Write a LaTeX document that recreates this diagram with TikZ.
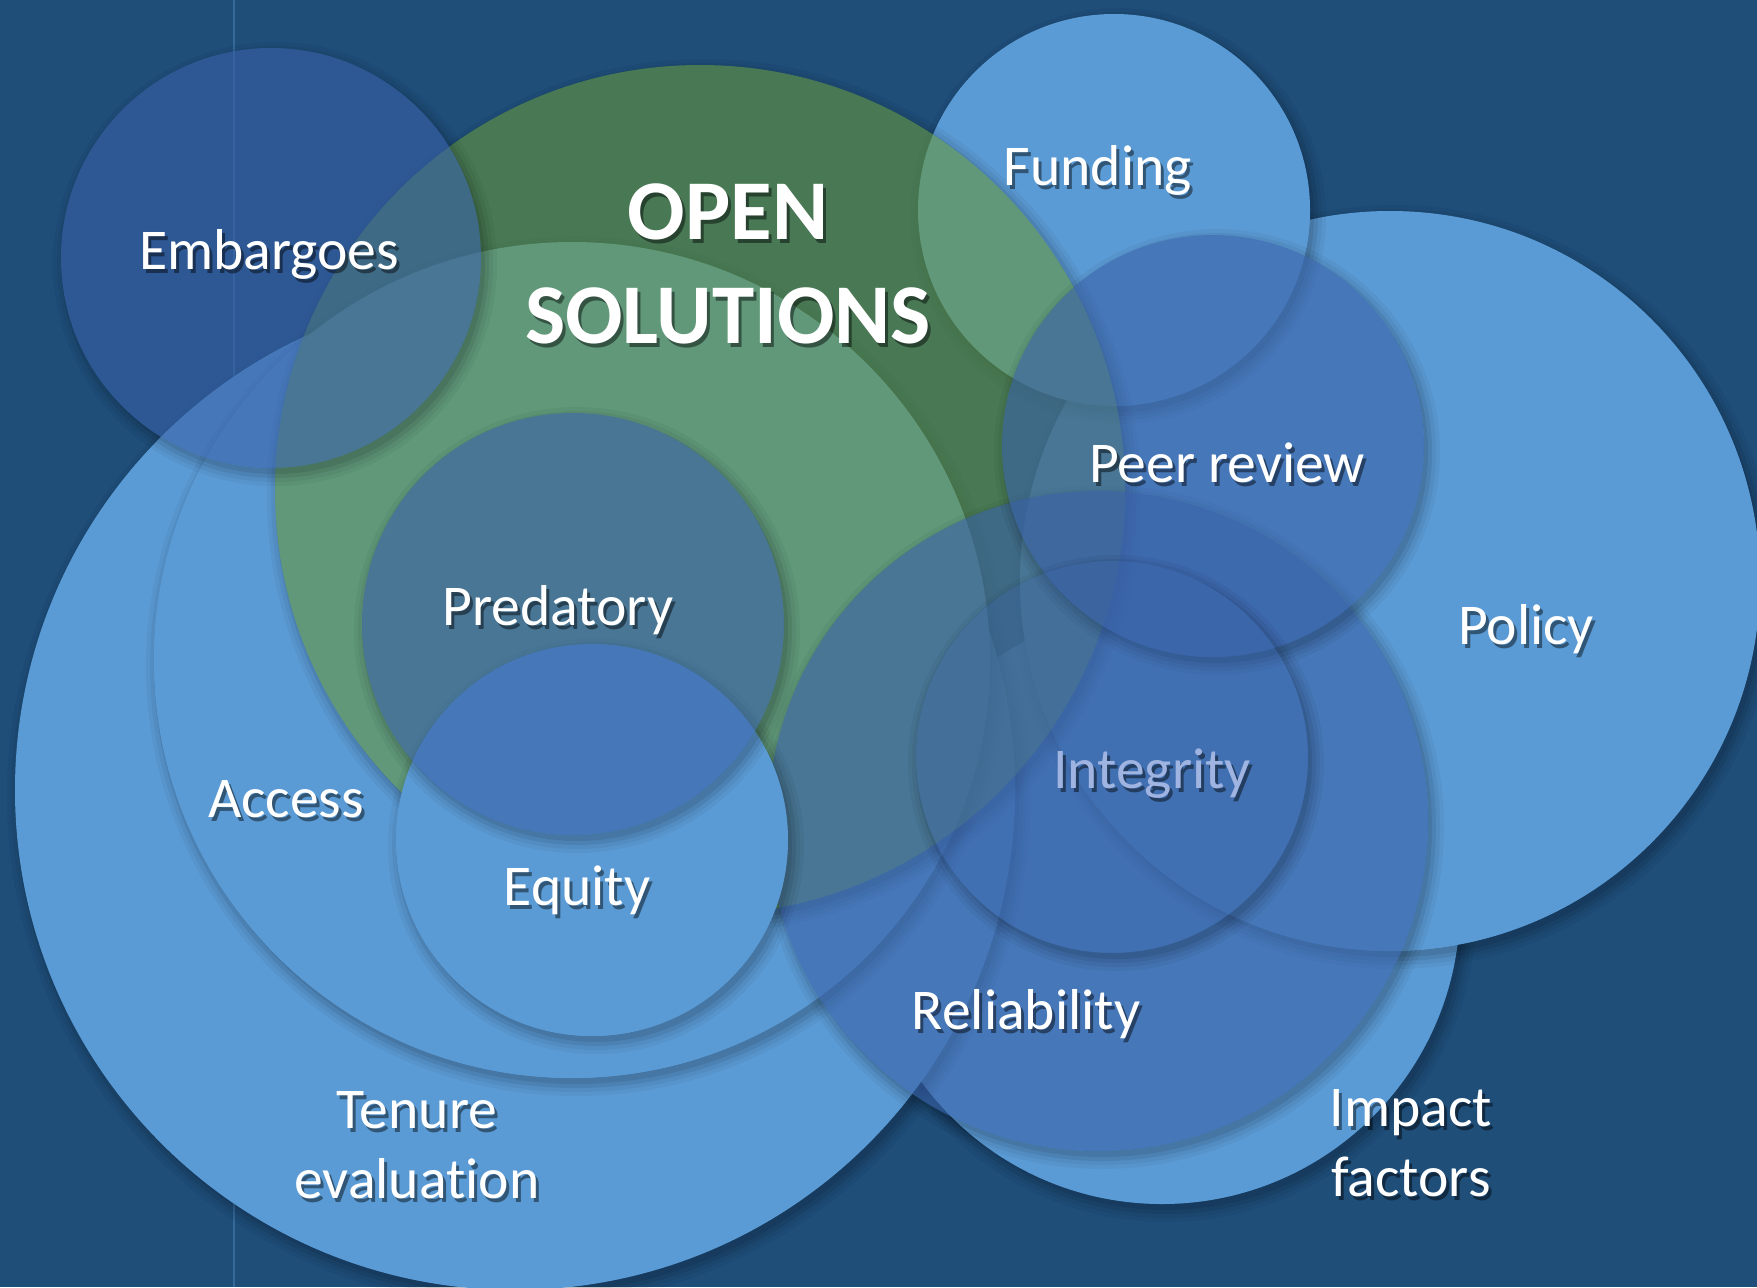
\documentclass[tikz,border=0pt]{standalone}
\usepackage{fontspec}
\setmainfont{Carlito}[Ligatures=NoCommon]

\definecolor{bgblue}{HTML}{1F4E79}
\definecolor{liteblue}{HTML}{5B9BD5}
\definecolor{deepblue}{RGB}{56,96,166}
\definecolor{solgreen}{RGB}{100,150,60}
\definecolor{faintlabel}{RGB}{160,180,225}

\tikzset{
  litecirc/.style={fill=liteblue},
  greencirc/.style={fill=solgreen, fill opacity=.6},
  darkcirc/.style={fill=deepblue, fill opacity=.6},
  faintcirc/.style={fill=deepblue, fill opacity=.3},
  lbl/.style={text=white, font=\fontsize{16.4}{19.9}\selectfont, align=center, inner sep=0pt, anchor=base},
  bigtitle/.style={font=\bfseries\fontsize{24.2}{29.3}\selectfont},
}

% soft shadow outside a circle: centre, radius
\newcommand{\circshade}[2]{%
  \begin{scope}[even odd rule]
    \clip (-20,-20) rectangle (1777,1307) (#1) circle[radius=#2];
    \foreach \d/\o in {12/.04, 8/.05, 4/.07, 0/.08}
      \fill[black, opacity=\o] ([shift={(4,6)}]#1) circle[radius=#2+\d];
  \end{scope}}

% label with a shadow under it
\newcommand{\circlabel}[4][]{%
  \node[lbl,#1,text=black,text opacity=.45] at ([shift={(3,4)}]#3) {#4};
  \node[lbl,#1] (#2) at (#3) {#4};}

\begin{document}
\begin{tikzpicture}[x=0.01cm, y=-0.01cm]

\useasboundingbox (0,0) rectangle (1757,1287);
\fill[bgblue] (0,0) rectangle (1757,1287);
\draw[liteblue!35!bgblue, line width=0.6pt] (234,0) -- (234,1287);

%% centres of the circles
\coordinate (impact) at (1162,906);
\coordinate (policy) at (1390,581);
\coordinate (tenure) at (515,790);
\coordinate (access) at (572,660);
\coordinate (funding) at (1114,210);
\coordinate (open) at (700,490);
\coordinate (embargo) at (271,258);
\coordinate (reliab) at (1098,821);
\coordinate (equity) at (592,840);
\coordinate (predat) at (573,624);
\coordinate (peer) at (1213,446);
\coordinate (integ) at (1112,757);

%% circles, lowest first
\foreach \c/\r/\s in {impact/298/litecirc, policy/370/litecirc, tenure/500/litecirc,
    access/418/litecirc, funding/196/litecirc, open/425/greencirc,
    embargo/210/darkcirc, reliab/330/darkcirc, equity/196/litecirc,
    predat/211/darkcirc, peer/211/darkcirc, integ/196/faintcirc}
  {
    \circshade{\c}{\r}
    \fill[\s] (\c) circle[radius=\r];
  }

%% labels (base = baseline of the last line)
\circlabel[bigtitle]{title}{728,343}{OPEN\\SOLUTIONS}
\circlabel{embargolbl}{269,269}{Embargoes}
\circlabel{fundinglbl}{1098,185}{Funding}
\circlabel{peerlbl}{1227,482}{Peer review}
\circlabel{policylbl}{1526,644}{Policy}
\circlabel{predatlbl}{558,625}{Predatory}
\circlabel{accesslbl}{286,817}{Access}
\circlabel[text=faintlabel]{integlbl}{1152,788}{Integrity}
\circlabel{equitylbl}{577,905}{Equity}
\circlabel{reliablbl}{1026,1029}{Reliability}
\circlabel{tenurelbl}{417,1198}{Tenure\\evaluation}
\circlabel{impactlbl}{1411,1196}{Impact\\factors}

\end{tikzpicture}
\end{document}
